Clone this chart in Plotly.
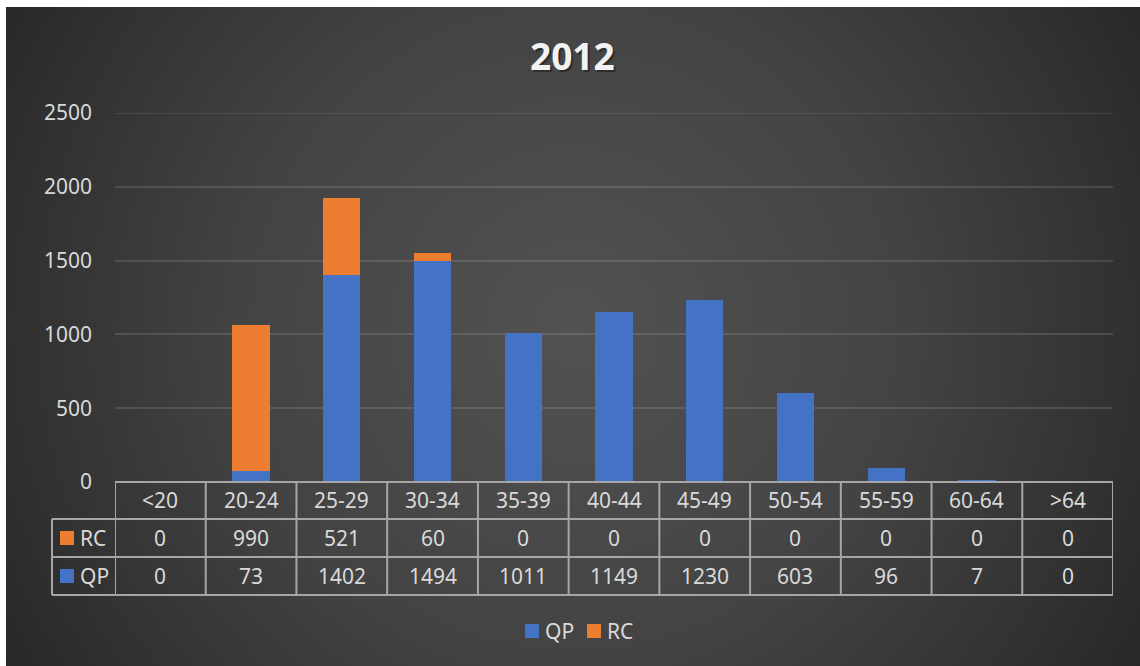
import base64
import plotly.graph_objects as go

categories = ["<20", "20-24", "25-29", "30-34", "35-39", "40-44", "45-49", "50-54", "55-59", "60-64", ">64"]
qp_values = [0, 73, 1402, 1494, 1011, 1149, 1230, 603, 96, 7, 0]
rc_values = [0, 990, 521, 60, 0, 0, 0, 0, 0, 0, 0]
title_text = "2012"
y_ticks = [0, 500, 1000, 1500, 2000, 2500]

BLUE = "#4472C4"
ORANGE = "#ED7D31"
TXT = "#D9D9D9"
LINE = "#A6A6A6"
FONT = "Noto Sans"
FS = 21

W, H = 1140, 666
L, R, T, B = 115, 1113, 113, 482
PW, PH = R - L, B - T


def px(p):
    return (p - L) / PW


def py(q):
    return (B - q) / PH


# background radial gradient (dark Excel style)
bw, bh = 1134, 659
svg = f'''<svg xmlns="http://www.w3.org/2000/svg" width="{bw}" height="{bh}" viewBox="0 0 {bw} {bh}" preserveAspectRatio="none">
<defs><radialGradient id="g" gradientUnits="userSpaceOnUse" cx="567" cy="320" r="665">
<stop offset="0" stop-color="#525252"/>
<stop offset="0.5" stop-color="#434343"/>
<stop offset="0.85" stop-color="#303030"/>
<stop offset="1" stop-color="#272727"/>
</radialGradient></defs>
<rect x="0" y="0" width="{bw}" height="{bh}" fill="url(#g)"/></svg>'''
src = "data:image/svg+xml;base64," + base64.b64encode(svg.encode()).decode()

fig = go.Figure()
fig.add_trace(go.Bar(x=categories, y=qp_values, name="QP", marker=dict(color=BLUE, line=dict(width=0))))
fig.add_trace(go.Bar(x=categories, y=rc_values, name="RC", marker=dict(color=ORANGE, line=dict(width=0))))

shapes = []
annotations = []
lw = 2
# top gridline (at range edge)
shapes.append(dict(type="line", xref="paper", yref="y", x0=0, x1=1, y0=2500, y1=2500,
                   line=dict(color="rgba(255,255,255,0.12)", width=1.5), layer="below"))
# table horizontal lines
shapes.append(dict(type="line", xref="paper", yref="paper", x0=0, x1=1, y0=py(482), y1=py(482),
                   line=dict(color=LINE, width=lw), layer="above"))
for q in [519, 557, 595]:
    shapes.append(dict(type="line", xref="paper", yref="paper", x0=px(52), x1=1, y0=py(q), y1=py(q),
                       line=dict(color=LINE, width=lw)))
# vertical lines
for i in range(len(categories) + 1):
    shapes.append(dict(type="line", xref="x", yref="paper", x0=i - 0.5, x1=i - 0.5, y0=py(482), y1=py(595),
                       line=dict(color=LINE, width=lw)))
shapes.append(dict(type="line", xref="paper", yref="paper", x0=px(52), x1=px(52), y0=py(519), y1=py(595),
                   line=dict(color=LINE, width=lw)))

rows = [("RC", rc_values, ORANGE, 538), ("QP", qp_values, BLUE, 576)]
for c in categories:
    annotations.append(dict(x=c, xref="x", y=py(500), yref="paper", text=c, showarrow=False,
                            font=dict(family=FONT, size=FS, color=TXT), xanchor="center", yanchor="middle"))
for name, vals, col, yc in rows:
    shapes.append(dict(type="rect", xref="paper", yref="paper", x0=px(60), x1=px(74),
                       y0=py(yc - 7), y1=py(yc + 7), fillcolor=col, line=dict(width=0)))
    annotations.append(dict(x=px(78), xref="paper", y=py(yc), yref="paper", text=name, showarrow=False,
                            font=dict(family=FONT, size=FS, color=TXT), xanchor="left", yanchor="middle"))
    for c, v in zip(categories, vals):
        annotations.append(dict(x=c, xref="x", y=py(yc), yref="paper", text=str(v), showarrow=False,
                                font=dict(family=FONT, size=FS, color=TXT), xanchor="center", yanchor="middle"))

# manual legend
legend_items = [("QP", BLUE, 525), ("RC", ORANGE, 587)]
for name, col, x0 in legend_items:
    shapes.append(dict(type="rect", xref="paper", yref="paper", x0=px(x0), x1=px(x0 + 14),
                       y0=py(638), y1=py(624), fillcolor=col, line=dict(width=0)))
    annotations.append(dict(x=px(x0 + 18), xref="paper", y=py(631), yref="paper", text=name, showarrow=False,
                            font=dict(family=FONT, size=FS, color=TXT), xanchor="left", yanchor="middle"))

# title with slight shadow
annotations.append(dict(x=px(574), xref="paper", y=py(57), yref="paper", text=f"<b>{title_text}</b>",
                        showarrow=False, font=dict(family=FONT, size=37, color="rgba(0,0,0,0.35)"),
                        xanchor="center", yanchor="middle"))
annotations.append(dict(x=px(572), xref="paper", y=py(55), yref="paper", text=f"<b>{title_text}</b>",
                        showarrow=False, font=dict(family=FONT, size=37, color="#F2F2F2"),
                        xanchor="center", yanchor="middle"))

fig.update_layout(
    width=W, height=H,
    margin=dict(l=L, r=W - R, t=T, b=H - B, pad=0),
    paper_bgcolor="white",
    plot_bgcolor="rgba(0,0,0,0)",
    barmode="stack",
    bargap=0.59,
    images=[dict(source=src, xref="paper", yref="paper", x=px(6), y=py(7), sizex=(W - 6) / PW,
                 sizey=(H - 7) / PH, sizing="stretch", layer="below", xanchor="left", yanchor="top")],
    xaxis=dict(type="category", range=[-0.5, len(categories) - 0.5], showticklabels=False,
               showgrid=False, zeroline=False, showline=False, ticks=""),
    yaxis=dict(range=[0, 2500], tickvals=y_ticks, showgrid=True, gridcolor="rgba(255,255,255,0.12)",
               gridwidth=1.5, zeroline=False, showline=False, ticks="", ticklabelstandoff=22,
               tickfont=dict(family=FONT, size=FS, color=TXT)),
    showlegend=False,
    shapes=shapes,
    annotations=annotations,
)

fig.write_html("out.html")
